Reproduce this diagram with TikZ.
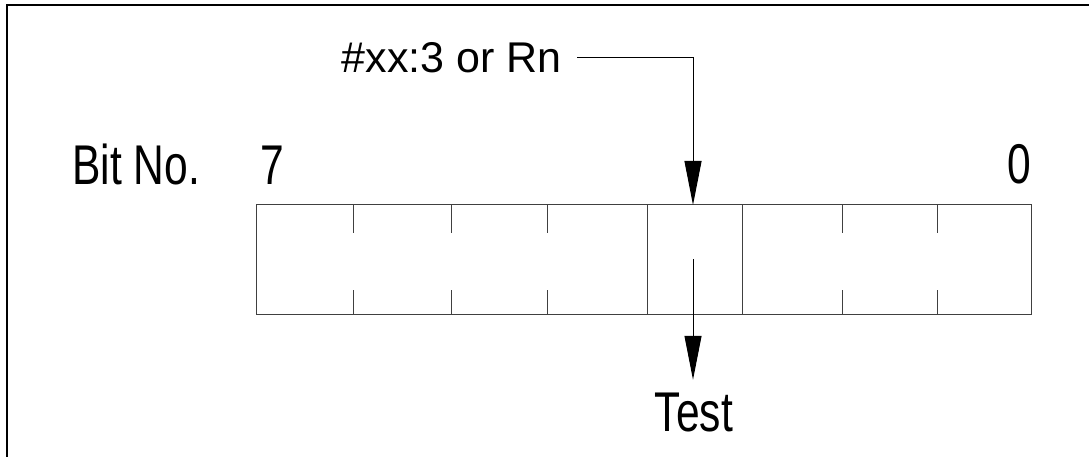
\documentclass[tikz,border=0pt]{standalone}
\usepackage{fontspec}
\setmainfont{Liberation Sans}
\newfontfamily\narrowsf[FakeStretch=0.76]{Liberation Sans}
\usetikzlibrary{arrows.meta}
\tikzset{pointer/.style={-{Triangle[length=44pt,width=17pt]}, line width=1pt}}
\tikzset{cell/.style={line width=1pt, black!75}}
\tikzset{lbl/.style={inner sep=0pt, font=\narrowsf\fontsize{56}{60}\selectfont}}

\begin{document}
\begin{tikzpicture}[x=1pt,y=-1pt]
      \useasboundingbox (0,0) rectangle (1089,457);
      \draw [line width=2pt] (7,457) -- (7,5.5) -- (1089,5.5);

      \draw [cell] (256,205) rectangle (1031,314);
      \foreach \x in {353,451,547,842,937} {
        \draw [cell] (\x,205) -- (\x,233);
        \draw [cell] (\x,290) -- (\x,314);
      }
      \draw [cell] (647,205) -- (647,314);
      \draw [cell] (742,205) -- (742,314);

      \node [lbl, anchor=base west] (bitno) at (72,185) {Bit No.};
      \node [lbl, anchor=base] (msb) at (272.5,185) {7};
      \node [lbl, anchor=base] (lsb) at (1019,184) {0};

      \node [inner sep=0pt, font=\fontsize{43}{46}\selectfont, anchor=base east] (src) at (562,72.5) {\#xx:3 or Rn};
      \coordinate (bit3in) at (693,205);
      \draw [pointer] ([xshift=15pt]src.east) -| (bit3in);

      \coordinate (bit3mid) at (693,259);
      \node [lbl, anchor=base, inner ysep=13pt] (test) at (694,431.5) {Test};
      \draw [pointer] (bit3mid) -- (bit3mid |- test.north);
\end{tikzpicture}
\end{document}
